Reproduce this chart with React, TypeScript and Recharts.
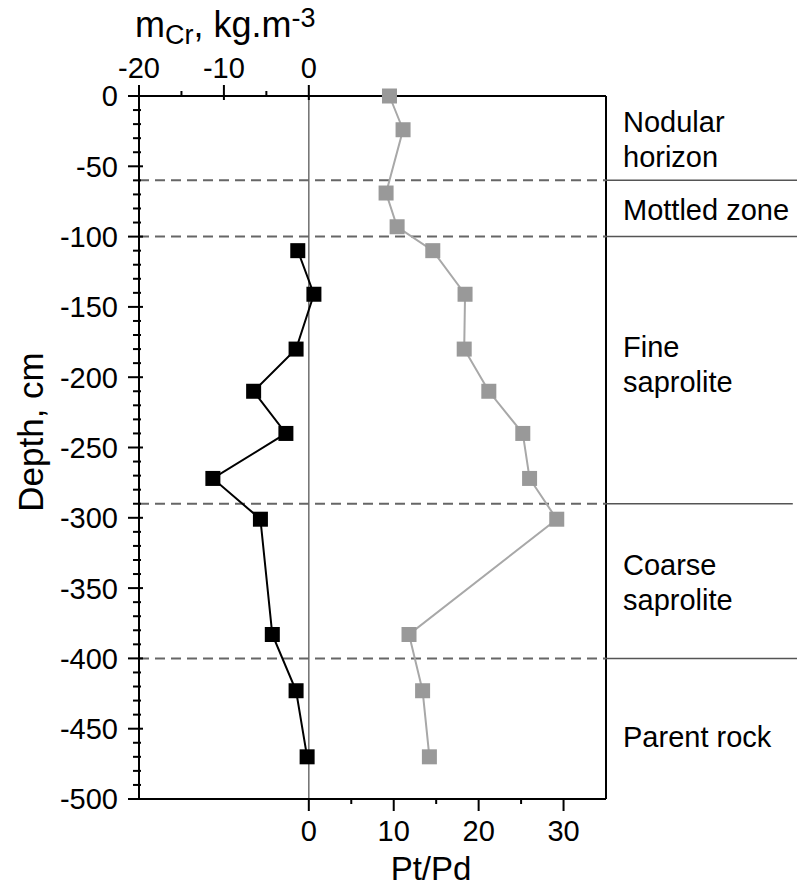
import {
  ReferenceLine,
  Scatter,
  ScatterChart,
  XAxis,
  YAxis
} from "recharts";

// depth (cm) and values
const mCrDepth = [-110, -141, -180, -210, -240, -272, -301, -383, -423, -470];
const mCrValue = [-1.3, 0.6, -1.5, -6.5, -2.7, -11.3, -5.7, -4.3, -1.5, -0.2];

const ptPdDepth = [0, -24, -69, -93, -110, -141, -180, -210, -240, -272, -301, -383, -423, -470];
const ptPdValue = [9.5, 11.1, 9.1, 10.4, 14.6, 18.4, 18.3, 21.2, 25.2, 26.0, 29.2, 11.8, 13.4, 14.2];

const zoneBoundaries = [-60, -100, -290, -400];
const zoneNames = [["Nodular", "horizon"], ["Mottled zone"], ["Fine", "saprolite"], ["Coarse", "saprolite"], ["Parent rock"]];

const depthTicks = Array.from({ length: 51 }, (_, i) => -500 + i * 10);
const topTicks = [-20, -15, -10, -5, 0];
const bottomTicks = [0, 5, 10, 15, 20, 25, 30];

const FONT = '"Liberation Sans", Arial, sans-serif';
const W = 797;
const H = 890;

const mCrPoints = mCrDepth.map((d, i) => ({ d, v: mCrValue[i] }));
const ptPdPoints = ptPdDepth.map((d, i) => ({ d, v: ptPdValue[i] }));

// first-line baselines of the zone labels, px
const zoneLabelY = [132, 220, 357, 575, 747];

const LeftTick = (props: any) => {
  const { x, y, payload } = props;
  const v = payload.value;
  const major = v % 50 === 0;
  const ax = x + 21;
  return (
    <g>
      <line x1={ax - (major ? 11 : 6)} x2={ax + (major ? 4 : 2)} y1={y} y2={y} stroke="#000" strokeWidth={2} />
      {major && (
        <text x={x} y={y} dy="0.36em" textAnchor="end" fontSize={29} fontFamily={FONT} fill="#000">
          {v}
        </text>
      )}
    </g>
  );
};

const TopTick = (props: any) => {
  const { x, y, payload } = props;
  const v = payload.value;
  const major = v % 10 === 0;
  const ay = y + 18;
  return (
    <g>
      <line x1={x} x2={x} y1={ay - (major ? 11 : 5)} y2={ay + (major ? 4 : 0)} stroke="#000" strokeWidth={2} />
      {major && (
        <text x={x} y={y} textAnchor="middle" fontSize={29} fontFamily={FONT} fill="#000">
          {v}
        </text>
      )}
    </g>
  );
};

const BottomTick = (props: any) => {
  const { x, y, payload } = props;
  const v = payload.value;
  const major = v % 10 === 0;
  const ay = y - 21;
  return (
    <g>
      <line x1={x} x2={x} y1={ay} y2={ay + (major ? 12 : 5)} stroke="#000" strokeWidth={2} />
      {major && (
        <text x={x} y={y + 21} textAnchor="middle" fontSize={29} fontFamily={FONT} fill="#000">
          {v}
        </text>
      )}
    </g>
  );
};

const square = (fill: string) => (p: any) => (
  <rect x={p.cx - 7.5} y={p.cy - 7.5} width={15} height={15} fill={fill} />
);

export default function App() {
  return (
    <div style={{ position: "absolute", left: 0, top: 0, background: "#fff" }}>
      <ScatterChart width={W} height={H} margin={{ top: 0, right: 191, bottom: 0, left: 0 }}>
        <XAxis
          xAxisId="top"
          orientation="top"
          type="number"
          dataKey="v"
          domain={[-20, 35]}
          ticks={topTicks}
          interval={0}
          height={96}
          tickSize={11}
          tickMargin={7}
          tickLine={false}
          tick={TopTick}
          axisLine={{ stroke: "#000", strokeWidth: 2 }}
        />
        <XAxis
          xAxisId="bottom"
          orientation="bottom"
          type="number"
          dataKey="v"
          domain={[-20, 35]}
          ticks={bottomTicks}
          interval={0}
          height={91}
          tickSize={12}
          tickMargin={9}
          tickLine={false}
          tick={BottomTick}
          axisLine={{ stroke: "#000", strokeWidth: 2 }}
        />
        <YAxis
          type="number"
          dataKey="d"
          domain={[-500, 0]}
          ticks={depthTicks}
          interval={0}
          width={139}
          tickSize={11}
          tickMargin={10}
          tickLine={false}
          tick={LeftTick}
          axisLine={{ stroke: "#000", strokeWidth: 2 }}
        />

        <ReferenceLine xAxisId="bottom" x={0} stroke="#6e6e6e" strokeWidth={1.5} />
        <ReferenceLine xAxisId="bottom" x={35} stroke="#000" strokeWidth={2} />
        {zoneBoundaries.map((b) => (
          <ReferenceLine key={`d${b}`} xAxisId="bottom" y={b} stroke="#666" strokeWidth={2} strokeDasharray="10 6" />
        ))}
        {zoneBoundaries.map((b) => (
          <ReferenceLine
            key={`s${b}`}
            xAxisId="bottom"
            ifOverflow="visible"
            segment={[{ x: 35, y: b }, { x: b === -290 ? 57 : 58, y: b }]}
            stroke="#555"
            strokeWidth={1.5}
          />
        ))}

        <Scatter
          xAxisId="bottom"
          data={ptPdPoints}
          line={{ stroke: "#a8a8a8", strokeWidth: 2 }}
          shape={square("#999999")}
          isAnimationActive={false}
        />
        <Scatter
          xAxisId="top"
          data={mCrPoints}
          line={{ stroke: "#000", strokeWidth: 2 }}
          shape={square("#000")}
          isAnimationActive={false}
        />

        <text x={135} y={37} fontSize={36} fontFamily={FONT} fill="#000">
          m<tspan dy={7} fontSize={27}>Cr</tspan>
          <tspan dy={-7}>, kg.m</tspan>
          <tspan dy={-10} fontSize={27}>-3</tspan>
        </text>
        <text x={431} y={880} textAnchor="middle" fontSize={33} fontFamily={FONT} fill="#000">
          Pt/Pd
        </text>
        <text
          x={43}
          y={432}
          transform="rotate(-90 43 432)"
          textAnchor="middle"
          fontSize={35}
          fontFamily={FONT}
          fill="#000"
        >
          Depth, cm
        </text>

        {zoneNames.map((lines, i) => (
          <text key={i} x={623} y={zoneLabelY[i]} fontSize={29} fontFamily={FONT} fill="#000">
            {lines.map((l, j) => (
              <tspan key={j} x={623} dy={j === 0 ? 0 : 35}>
                {l}
              </tspan>
            ))}
          </text>
        ))}
      </ScatterChart>
    </div>
  );
}
